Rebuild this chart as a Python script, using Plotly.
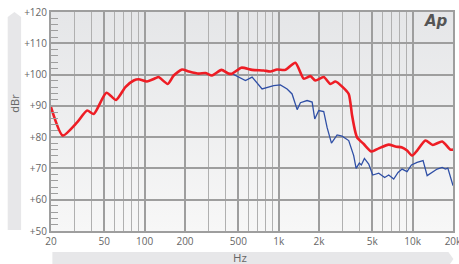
import base64
import math
import plotly.graph_objects as go

# ---- data ----
red_freq = [20, 24.5, 31.3, 37.2, 41.7, 51.8, 61.2, 71.8, 82.8, 90.2, 104, 120, 127, 148.6, 164.7,
            190, 213, 253, 284, 318, 374, 424, 449, 527, 634, 773, 867, 973, 1122, 1333, 1539,
            1726, 1880, 2169, 2433, 2651, 3006, 3333, 3532, 3740, 3847, 4315, 4922, 5584, 6627,
            7434, 8338, 9085, 9900, 10790, 12450, 14130, 16600, 19130, 20000]
red_db = [89.6, 80.5, 84.7, 88.5, 87.4, 94.2, 91.9, 96.0, 98.1, 98.5, 97.8, 98.8, 99.2, 97.0, 99.7,
          101.6, 101.0, 100.3, 100.5, 99.7, 101.5, 100.3, 100.3, 102.2, 101.5, 101.3, 101.0, 101.6,
          101.5, 103.8, 98.7, 99.5, 98.1, 99.2, 97.0, 97.8, 96.0, 93.8, 86.9, 81.5, 79.9, 77.8, 75.4,
          76.4, 77.6, 77.0, 76.7, 75.7, 74.1, 75.7, 78.9, 77.5, 78.6, 76.0, 76.0]

blue_freq = [424, 449, 565, 634, 752, 819, 918, 1030, 1156, 1259, 1374, 1453, 1630, 1778, 1859,
             1991, 2169, 2298, 2477, 2731, 2973, 3333, 3630, 3785, 4000, 4140, 4365, 4700, 5035,
             5584, 6180, 6627, 7220, 7780, 8338, 9085, 9795, 10790, 11960, 12830, 13980, 15230,
             16600, 17550, 18300, 20000]
blue_db = [100.3, 100.3, 98.1, 99.2, 95.4, 95.8, 96.5, 96.7, 95.4, 93.8, 88.8, 91.0, 91.7, 91.2, 85.8,
           88.5, 88.2, 83.1, 78.1, 80.7, 80.3, 78.9, 74.1, 70.0, 71.7, 71.1, 73.2, 71.4, 67.9,
           68.5, 67.1, 67.9, 66.6, 68.7, 69.8, 69.0, 71.1, 71.9, 72.5, 67.7, 68.7, 69.8,
           70.3, 69.8, 70.1, 64.5]

x_major = [20, 50, 100, 200, 500, 1000, 2000, 5000, 10000, 20000]
x_major_text = ["20", "50", "100", "200", "500", "1k", "2k", "5k", "10k", "20k"]
x_minor = [30, 40, 60, 70, 80, 90, 300, 400, 600, 700, 800, 900,
           3000, 4000, 6000, 7000, 8000, 9000]
y_major = [50, 60, 70, 80, 90, 100, 110, 120]
y_major_text = ["+50", "+60", "+70", "+80", "+90", "+100", "+110", "+120"]
y_minor = [v for v in range(50, 121, 2) if v % 10 != 0]

# ---- geometry helpers (pixels -> paper) ----
W, H = 459, 264
L, R, T, B = 50.6, 452.6, 11.7, 230.7
def px(x):
    return (x - L) / (R - L)
def py(y):
    return (B - y) / (B - T)

svg = ('<svg xmlns="http://www.w3.org/2000/svg" width="10" height="100" preserveAspectRatio="none">'
       '<defs><linearGradient id="g" x1="0" y1="0" x2="0" y2="1">'
       '<stop offset="0" stop-color="#e5e6e8"/><stop offset="1" stop-color="#f7f7f7"/>'
       '</linearGradient></defs><rect width="10" height="100" fill="url(#g)"/></svg>')
grad_src = "data:image/svg+xml;base64," + base64.b64encode(svg.encode()).decode()

fig = go.Figure()
fig.add_trace(go.Scatter(x=blue_freq, y=blue_db, mode="lines",
                         line=dict(color="#2f4fa6", width=1.3), hoverinfo="skip"))
fig.add_trace(go.Scatter(x=red_freq, y=red_db, mode="lines",
                         line=dict(color="#ee1d25", width=2.6, shape="spline", smoothing=0.6),
                         hoverinfo="skip"))

font = "Open Sans, DejaVu Sans, sans-serif"
fig.update_layout(
    width=W, height=H,
    margin=dict(l=L, r=W - R, t=T, b=H - B, autoexpand=False),
    paper_bgcolor="white", plot_bgcolor="rgba(0,0,0,0)",
    showlegend=False,
    font=dict(family=font, size=10, color="#666"),
    xaxis=dict(type="log", range=[math.log10(20) - 1e-5, math.log10(20000) + 1e-5],
               tickmode="array", ticklabeloverflow="allow",
               tickvals=x_major, ticktext=x_major_text, automargin=False,
               showgrid=True, gridcolor="#9e9e9e", gridwidth=2,
               minor=dict(tickmode="array", tickvals=x_minor, showgrid=True,
                          gridcolor="#b0b0b0", gridwidth=1.2, ticks=""),
               showline=True, mirror=True, linecolor="#9e9e9e", linewidth=2,
               ticks="", zeroline=False, tickfont=dict(size=10, color="#666")),
    yaxis=dict(range=[50, 120], tickmode="array", tickvals=y_major, ticktext=y_major_text,
               automargin=False,
               showgrid=True, gridcolor="#9e9e9e", gridwidth=2,
               minor=dict(tickmode="array", tickvals=y_minor, ticks="inside",
                          ticklen=7, tickcolor="#9e9e9e", tickwidth=1.2, showgrid=False),
               showline=True, mirror=True, linecolor="#9e9e9e", linewidth=2,
               ticks="", zeroline=False, tickfont=dict(size=10, color="#666")),
    images=[dict(source=grad_src, xref="paper", yref="paper", x=0, y=1,
                 sizex=1, sizey=1, sizing="stretch", xanchor="left", yanchor="top",
                 layer="below")],
)

# decorative axis-title bars
left_bar = "M {x0},{y0} L {x0},{y1} L {xm},{yt} L {x1},{y1} L {x1},{y0} Z".format(
    x0=px(7.3), x1=px(20.7), xm=px(14), y0=py(229.7), y1=py(16.7), yt=py(11.7))
bottom_bar = "M {x0},{y0} L {x1},{y0} L {xt},{ym} L {x1},{y1} L {x0},{y1} Z".format(
    x0=px(52), x1=px(448), xt=px(453), y0=py(251.7), y1=py(266), ym=py(258.8))
fig.add_shape(type="path", path=left_bar, xref="paper", yref="paper",
              fillcolor="#e7e7e9", line=dict(width=0), layer="below")
fig.add_shape(type="path", path=bottom_bar, xref="paper", yref="paper",
              fillcolor="#e7e7e9", line=dict(width=0), layer="below")

fig.add_annotation(text="dBr", xref="paper", yref="paper", x=px(14), y=py(103),
                   textangle=-90, showarrow=False, font=dict(size=11, color="#666"),
                   xanchor="center", yanchor="middle")
fig.add_annotation(text="Hz", xref="paper", yref="paper", x=px(240), y=py(257.3),
                   showarrow=False, font=dict(size=11.5, color="#666"),
                   xanchor="center", yanchor="middle")
fig.add_annotation(text="<b><i>Ap</i></b>", xref="paper", yref="paper", x=px(436), y=py(21),
                   showarrow=False, font=dict(size=15, color="#555", family="DejaVu Sans"),
                   xanchor="center", yanchor="middle")

fig.write_html("out.html", config={"displayModeBar": False},
               post_script="document.body.style.margin='0';document.body.style.overflow='hidden';")
